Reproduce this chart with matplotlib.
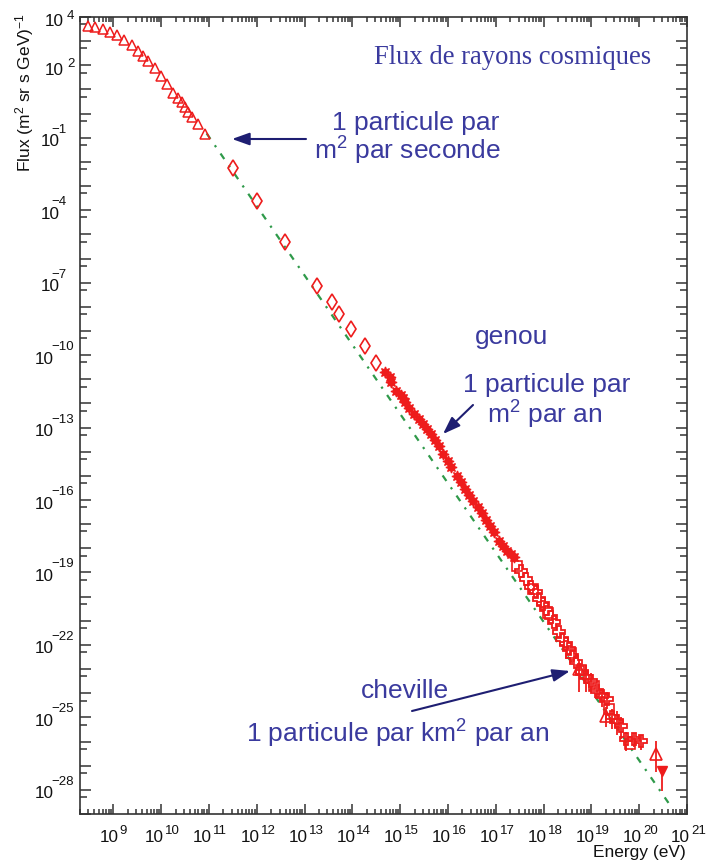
import matplotlib
matplotlib.use("Agg")
import matplotlib.pyplot as plt
import matplotlib.transforms as mtrans
import numpy as np
from matplotlib.ticker import FixedLocator, NullFormatter

plt.rcParams['font.family'] = ['Liberation Sans', 'DejaVu Sans']
plt.rcParams['mathtext.fontset'] = 'custom'
plt.rcParams['mathtext.rm'] = 'Liberation Sans'
plt.rcParams['mathtext.it'] = 'Liberation Sans:italic'
plt.rcParams['mathtext.bf'] = 'Liberation Sans:bold'

# ---- measured cosmic-ray flux (log10 of energy in eV, log10 of flux) ----
# low energy (open triangles)
tri_logE = [8.478, 8.618, 8.779, 8.931, 9.084, 9.230, 9.397, 9.522, 9.626, 9.731,
            9.871, 10.002, 10.115, 10.253, 10.357, 10.428, 10.497, 10.566, 10.649,
            10.762, 10.914]
tri_logF = [3.615, 3.573, 3.503, 3.391, 3.255, 3.060, 2.841, 2.605, 2.397, 2.190,
            1.876, 1.568, 1.224, 0.853, 0.633, 0.468, 0.263, 0.053, -0.154,
            -0.431, -0.845]

# direct measurements (open diamonds)
diam_logE = [11.511, 12.006, 12.591, 13.259, 13.572, 13.718, 13.977, 14.255, 14.499]
diam_logF = [-2.265, -3.632, -5.304, -7.126, -7.789, -8.298, -8.919, -9.636, -10.327]

# air-shower arrays around the knee (asterisks)
star_logE = [14.672, 14.777, 14.812, 14.916, 15.021, 15.054, 15.090, 15.194, 15.299,
             15.388, 15.472, 15.555, 15.647, 15.737, 15.820, 15.904, 15.994, 16.065,
             16.182, 16.274, 16.363, 16.447, 16.530, 16.620, 16.712, 16.795, 16.879,
             16.969, 17.073, 17.142, 17.225, 17.317, 17.386]
star_logF = [-10.712, -10.919, -11.101, -11.474, -11.652, -11.789, -11.955, -12.203,
             -12.439, -12.646, -12.853, -13.060, -13.267, -13.503, -13.776, -14.095,
             -14.373, -14.646, -15.019, -15.267, -15.545, -15.793, -16.029, -16.302,
             -16.538, -16.816, -17.064, -17.337, -17.685, -17.917, -18.099, -18.236,
             -18.373]

# highest energies (open crosses) with asymmetric errors in dex
cross_logE = [17.526, 17.631, 17.735, 17.839, 17.908, 17.977, 18.048, 18.152, 18.221,
              18.326, 18.395, 18.466, 18.534, 18.603, 18.674, 18.812, 18.883, 18.988,
              19.125, 19.230, 19.334, 19.438, 19.543, 19.614, 19.718, 19.891, 20.031]
cross_logF = [-18.928, -19.271, -19.615, -19.822, -20.099, -20.306, -20.513, -20.857,
              -21.064, -21.478, -21.756, -21.963, -22.170, -22.447, -22.720, -23.135,
              -23.342, -23.482, -23.896, -24.104, -24.240, -24.998, -25.139, -25.346,
              -25.896, -25.896, -25.967]
cross_err_lo = [0, 0, 0, 0, 0, 0, 0, 0, 0, 0, 0, 0, 0, 0, 0, 0.15, 0.6, 0.35, 0.3,
                0.45, 0.4, 0.5, 0.6, 0.55, 0.5, 0.35, 0.4]
cross_err_hi = [0, 0, 0, 0, 0, 0, 0, 0, 0, 0, 0, 0, 0, 0, 0, 0.15, 0.5, 0.3, 0.2,
                0.3, 0.3, 0.35, 0.4, 0.35, 0.3, 0.25, 0.25]

sq_logE = [17.45, 17.78, 18.10, 18.58, 18.78, 19.05, 19.37, 19.80]
sq_logF = [-18.75, -19.68, -20.66, -22.35, -23.02, -23.72, -24.654, -26.10]

htri_logE = [18.743, 19.301, 20.345]
htri_logF = [-22.998, -24.930, -26.518]
htri_err_lo = [0.95, 0.45, 0.757]
htri_err_hi = [0.41, 0.35, 0.551]

down_logE = [20.47]
down_logF = [-27.209]
down_err_lo = [0.828]
down_err_hi = [0.209]

# reference power law drawn as a dash-dotted guide
fit_logE = [10.95, 20.70]
fit_logF = [-0.82, -28.79]

# axis ticks
xmajor_exp = list(range(9, 22))
ymajor_exp = list(range(-29, 5))
ylabel_exp = [4, 2, -1, -4, -7, -10, -13, -16, -19, -22, -25, -28]

RED = '#ee1c1c'
GREEN = '#2f9a4a'
TXT = '#3a3a9e'
ARROW = '#1e1e72'
AXC = '#333333'

W, H = 707, 862
fig = plt.figure(figsize=(W / 100, H / 100), dpi=100)
ax = fig.add_axes([80 / W, (H - 815) / H, 607 / W, 797 / H])
ax.set_xscale('log')
ax.set_yscale('log')
ax.set_xlim(2e8, 1e21)
ax.set_ylim(1e-29, 1e4)

p = lambda a: 10.0 ** np.asarray(a, dtype=float)

ax.plot(p(fit_logE), p(fit_logF), color=GREEN, lw=1.6,
        linestyle=(0, (3, 3.5, 1, 3.5)), zorder=1)

ax.plot(p(tri_logE), p(tri_logF), ls='none', marker='^', ms=7.5, mfc='none',
        mec=RED, mew=1.1, zorder=3)
ax.plot(p(diam_logE), p(diam_logF), ls='none', marker='d', ms=8.5, mfc='none',
        mec=RED, mew=1.2, zorder=3)
ax.plot(p(star_logE), p(star_logF), ls='none', marker=(8, 1, 0), ms=8,
        mfc=RED, mec=RED, mew=0.9, zorder=3)


def err_points(logE, logF, lo, hi, **kw):
    x = p(logE)
    y = p(logF)
    ylo = y - p(np.asarray(logF) - np.asarray(lo))
    yhi = p(np.asarray(logF) + np.asarray(hi)) - y
    ax.errorbar(x, y, yerr=[ylo, yhi], ls='none', ecolor=RED, elinewidth=1.3,
                capsize=0, zorder=3, **kw)


err_points(cross_logE, cross_logF, cross_err_lo, cross_err_hi, marker='P', ms=9,
           mfc='none', mec=RED, mew=1.3)
ax.plot(p(sq_logE), p(sq_logF), ls='none', marker='s', ms=6.5, mfc='none',
        mec=RED, mew=1.2, zorder=3)
err_points(htri_logE, htri_logF, htri_err_lo, htri_err_hi, marker='^', ms=8,
           mfc='none', mec=RED, mew=1.2)
err_points(down_logE, down_logF, down_err_lo, down_err_hi, marker='v', ms=7,
           mfc=RED, mec=RED, mew=1.0)

# ticks (inward on all four sides)
ax.xaxis.set_major_locator(FixedLocator([10.0 ** e for e in xmajor_exp]))
ax.xaxis.set_major_formatter(NullFormatter())
xminor = [m * 10.0 ** e for e in range(8, 21) for m in range(2, 10)]
ax.xaxis.set_minor_locator(FixedLocator(xminor))
ax.xaxis.set_minor_formatter(NullFormatter())

ax.yaxis.set_major_locator(FixedLocator([10.0 ** e for e in ymajor_exp]))
ax.yaxis.set_major_formatter(NullFormatter())
ax.yaxis.set_minor_locator(FixedLocator([5 * 10.0 ** e for e in range(-30, 4)]))
ax.yaxis.set_minor_formatter(NullFormatter())

ax.tick_params(which='both', direction='in', top=True, right=True,
               color=AXC, width=1.1)
ax.tick_params(axis='x', which='major', length=7.5)
ax.tick_params(axis='x', which='minor', length=3.8)
ax.tick_params(axis='y', which='major', length=8.2)
ax.tick_params(axis='y', which='minor', length=5.0)
for s in ax.spines.values():
    s.set_linewidth(1.2)
    s.set_color(AXC)


# power-of-ten tick labels: mantissa "10" plus a raised exponent
def shifted(base, dx_px, dy_px):
    return base + mtrans.ScaledTranslation(dx_px / 100, dy_px / 100,
                                           fig.dpi_scale_trans)


def expo(e):
    return ('\u2212%d' % -e) if e < 0 else '%d' % e


LAB = dict(color='#111111', clip_on=False)
xblend = mtrans.blended_transform_factory(ax.transData, ax.transAxes)
for e in xmajor_exp:
    r10 = 5.0 if e < 10 else 3.0
    ax.text(10.0 ** e, 0, '10', transform=shifted(xblend, r10, -27.5),
            ha='right', va='baseline', fontsize=12.3, **LAB)
    ax.text(10.0 ** e, 0, expo(e), transform=shifted(xblend, r10 + 1, -19.5),
            ha='left', va='baseline', fontsize=9.5, **LAB)

yblend = mtrans.blended_transform_factory(ax.transAxes, ax.transData)
for e in ylabel_exp:
    if e >= 0:
        r10, lexp, d10, dexp = -16.7, -13.0, -8.5, -1.0
    elif e > -10:
        r10, lexp, d10, dexp = -20.0, -28.3, -7.5, 6.0
    else:
        r10, lexp, d10, dexp = -26.7, -28.3, -7.5, 6.0
    ax.text(0, 10.0 ** e, '10', transform=shifted(yblend, r10, d10),
            ha='right', va='baseline', fontsize=12.3, **LAB)
    ax.text(0, 10.0 ** e, expo(e), transform=shifted(yblend, lexp, dexp),
            ha='left', va='baseline', fontsize=9.5, **LAB)

# axis titles
fig.text(25 / W, 1 - 13 / H, r'Flux (m$^\mathregular{2}$ sr s GeV)$^\mathregular{-1}$',
         rotation=90, ha='center', va='top', fontsize=12.5, color='#111111')
fig.text(686 / W, 1 - 857 / H, 'Energy (eV)', ha='right', va='baseline',
         fontsize=12.5, color='#111111')

# annotations
fig.text(513 / W, 1 - 64 / H, 'Flux de rayons cosmiques', ha='center',
         va='baseline', fontsize=19.2, color=TXT, family='Liberation Serif')


def ftext(x, y, s, size=19):
    fig.text(x / W, 1 - y / H, s, ha='center', va='baseline', fontsize=size,
             color=TXT)


ftext(416, 130, '1 particule par')
ftext(407, 160, r'm$^\mathregular{2}$ par seconde')
ftext(512, 344, 'genou')
ftext(547, 392, '1 particule par')
ftext(545, 424, r'm$^\mathregular{2}$ par an')
ftext(405, 698, 'cheville')
ftext(398, 743, r'1 particule par km$^\mathregular{2}$ par an')


def arrow(tail, head):
    ax.annotate('', xy=(head[0], H - head[1]), xycoords='figure pixels',
                xytext=(tail[0], H - tail[1]), textcoords='figure pixels',
                arrowprops=dict(arrowstyle='-|>,head_length=0.7,head_width=0.25',
                                color=ARROW, lw=1.5, mutation_scale=15,
                                shrinkA=0, shrinkB=0))


arrow((306, 140), (232, 140))
arrow((473, 406), (443, 435))
arrow((412, 712), (570, 672))

fig.savefig('out.png', dpi=100, facecolor='white')
